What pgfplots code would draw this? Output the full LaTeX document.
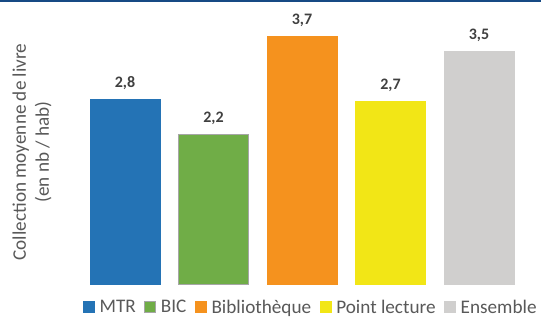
\documentclass[border=0pt]{standalone}
\usepackage{pgfplots}
\pgfplotsset{compat=1.18}
\usepackage{fontspec}
\setmainfont{Carlito}
\definecolor{cMTR}{HTML}{2473B5}
\definecolor{cBIC}{HTML}{70AD47}
\definecolor{cBIB}{HTML}{F5921E}
\definecolor{cPL}{HTML}{F2E616}
\definecolor{cENS}{HTML}{D0CFCE}
\definecolor{txt}{HTML}{595959}
\definecolor{lab}{HTML}{404040}
\definecolor{band}{HTML}{164A84}
\begin{document}
\begin{tikzpicture}
\path[use as bounding box] (0,0) rectangle (541bp,317bp);
\fill[band] (0,314.5bp) rectangle (541bp,317bp);
\begin{axis}[
  at={(80.75bp,33bp)}, anchor=south west,
  scale only axis, width=442.5bp, height=281.4bp,
  xmin=-0.5, xmax=4.5, ymin=0, ymax=4.2,
  axis line style={draw=none}, ticks=none,
  clip=false,
  ybar, bar width=70bp, bar shift=0pt,
  nodes near coords={\textbf{\pgfmathprintnumber[assume math mode=true,fixed,precision=1,zerofill,use comma]{\pgfplotspointmeta}}},
  every node near coord/.append style={font=\fontsize{16bp}{18bp}\selectfont, text=lab, yshift=6bp},
  legend columns=-1,
  legend style={draw=none, at={(axis description cs:0.52,-0.083)}, anchor=center,
    font=\fontsize{19.2bp}{21bp}\selectfont, text=txt,
    /tikz/every odd column/.append style={column sep=3bp},
    /tikz/every even column/.append style={column sep=6.5bp}},
  legend image code/.code={\draw[#1, line width=0.6bp] (0bp,-5bp) rectangle (11bp,6bp);},
]
\addplot[fill=cMTR, draw=cMTR] coordinates {(0,2.76)};
\addplot[fill=cBIC, draw=gray!70] coordinates {(1,2.24)};
\addplot[fill=cBIB, draw=cBIB] coordinates {(2,3.70)};
\addplot[fill=cPL, draw=cPL] coordinates {(3,2.73)};
\addplot[fill=cENS, draw=cENS] coordinates {(4,3.48)};
\legend{MTR, BIC, Bibliothèque, Point lecture, Ensemble}
\end{axis}
\node[rotate=90, align=center, text=txt, font=\fontsize{19.2bp}{23bp}\selectfont] at (32bp,165bp) {Collection moyenne de livre\\(en nb / hab)};
\end{tikzpicture}
\end{document}
